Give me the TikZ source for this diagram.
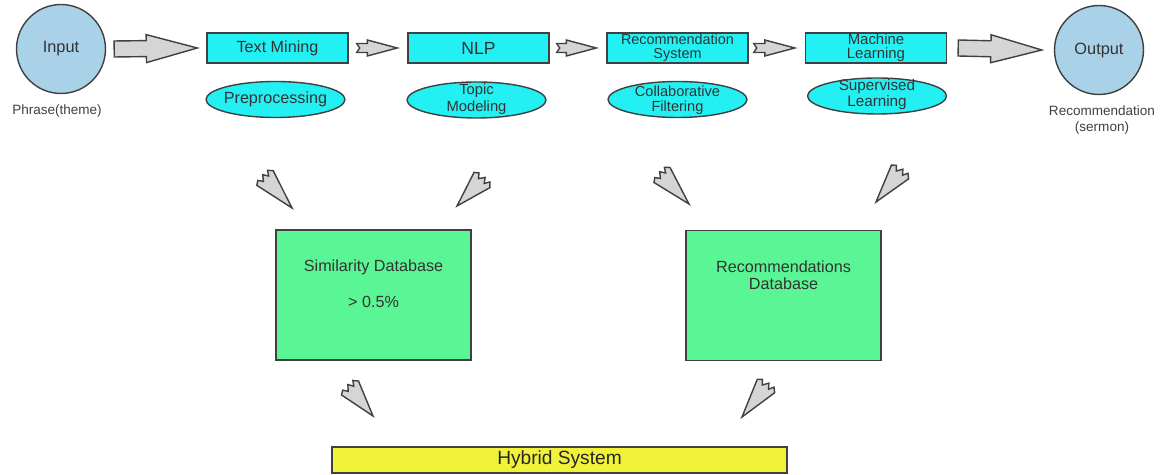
\documentclass[tikz,border=0pt]{standalone}
\usepackage{fontspec}
\setmainfont{Liberation Sans}
\usetikzlibrary{shapes.geometric,calc}

\definecolor{ioblue}{HTML}{A9D1E8}
\definecolor{stagecyan}{HTML}{22F0F2}
\definecolor{dbgreen}{HTML}{5AF594}
\definecolor{hybyellow}{HTML}{F2F23A}
\definecolor{arrowgray}{HTML}{D5D5D5}

\tikzset{
  io/.style={circle, draw=black!75, line width=0.8pt, fill=ioblue,
    minimum size=1.78cm, inner sep=0pt, text=black!80,
    font=\fontsize{9.3}{11}\selectfont},
  iotext/.style={align=center, text=black!75, font=\fontsize{7.7}{8.6}\selectfont},
  stage/.style={rectangle, draw=black!75, line width=0.8pt, fill=stagecyan,
    minimum width=2.82cm, minimum height=0.6cm, inner sep=0pt, align=center,
    text=black!80, font=\fontsize{9.2}{8}\selectfont},
  method/.style={ellipse, draw=black!75, line width=0.8pt, fill=stagecyan,
    minimum width=2.78cm, minimum height=0.72cm, inner sep=0pt},
  mtext/.style={align=center, inner sep=0pt, text=black!80},
  dbbox/.style={rectangle, draw=black!75, line width=0.8pt, fill=dbgreen,
    minimum width=3.9cm, minimum height=2.6cm, inner sep=0pt},
  dbtext/.style={align=center, inner sep=0pt, text=black!80,
    font=\fontsize{9.2}{9.8}\selectfont},
  % block arrow: shaft half width, head half width, head length, tail notch
  blockarrow/.style n args={4}{fill=arrowgray, draw=black!75, line width=0.8pt,
    to path={
      ($(\tikztostart)!#1!90:(\tikztotarget)$)
      -- ($(\tikztotarget)!#3!(\tikztostart)!#1!-90:(\tikztostart)$)
      -- ($(\tikztotarget)!#3!(\tikztostart)!#2!-90:(\tikztostart)$)
      -- (\tikztotarget)
      -- ($(\tikztotarget)!#3!(\tikztostart)!#2!90:(\tikztostart)$)
      -- ($(\tikztotarget)!#3!(\tikztostart)!#1!90:(\tikztostart)$)
      -- ($(\tikztostart)!#1!-90:(\tikztotarget)$)
      -- ($(\tikztostart)!#4!(\tikztotarget)$)
      -- cycle}},
  bigarrow/.style={blockarrow={0.16cm}{0.28cm}{1.02cm}{0cm}},
  smallarrow/.style={blockarrow={0.09cm}{0.16cm}{0.6cm}{0.06cm}},
  % thin arrow with a ragged tail
  ragarrow/.style={fill=arrowgray, draw=black!75, line width=0.8pt,
    to path={
      ($(\tikztostart)!0.22cm!90:(\tikztotarget)$)
      -- (\tikztotarget)
      -- ($(\tikztostart)!0.22cm!-90:(\tikztotarget)$)
      -- ($(\tikztostart)!-0.06cm!(\tikztotarget)!0.14cm!-90:(\tikztotarget)$)
      -- ($(\tikztostart)!0.03cm!(\tikztotarget)!0.07cm!-90:(\tikztotarget)$)
      -- ($(\tikztostart)!-0.08cm!(\tikztotarget)!0.01cm!90:(\tikztotarget)$)
      -- ($(\tikztostart)!0.02cm!(\tikztotarget)!0.08cm!90:(\tikztotarget)$)
      -- ($(\tikztostart)!-0.08cm!(\tikztotarget)!0.14cm!90:(\tikztotarget)$)
      -- cycle}},
}

\begin{document}
\begin{tikzpicture}[x=0.02cm, y=-0.02cm]
  \useasboundingbox (0,0) rectangle (1164,475);

  % top row
  \node[io] (input) at (61,49) {Input};
  \node[iotext] (phrase) at (57,111) {Phrase(theme)};
  \node[io] (output) at (1099,50) {Output};
  \node[iotext] (sermon) at (1102,120) {Recommendation\\(sermon)};

  \node[stage] (tm) at (277.5,48) {Text Mining};
  \node[stage, font=\fontsize{10}{10}\selectfont] (nlp) at (478.5,48) {NLP};
  \node[stage, font=\fontsize{8.2}{7.8}\selectfont] (rs) at (677.5,48) {Recommendation\\System};
  \node[stage, font=\fontsize{8.5}{8.1}\selectfont] (ml) at (876,48) {Machine\\Learning};

  \node[method] (tmm) at (275.5,99.5) {};
  \node[method] (nlpm) at (476.5,100) {};
  \node[method] (rsm) at (677.5,99.5) {};
  \node[method] (mlm) at (877,96) {};
  \node[mtext, font=\fontsize{9.2}{9}\selectfont] (tmt) at (tmm) {Preprocessing};
  \node[mtext, font=\fontsize{8.4}{9.5}\selectfont] (nlpt) at (476.5,99) {Topic\\Modeling};
  \node[mtext, font=\fontsize{8.3}{8.3}\selectfont] (rst) at (677.5,100) {Collaborative\\Filtering};
  \node[mtext, font=\fontsize{8.7}{8.1}\selectfont] (mlt) at (877,94.5) {Supervised\\Learning};

  \path[bigarrow] ([xshift=0.16cm]input.east) to ([xshift=-0.18cm]tm.west);
  \path[smallarrow] ([xshift=0.16cm]tm.east) to ([xshift=-0.2cm]nlp.west);
  \path[smallarrow] ([xshift=0.14cm]nlp.east) to ([xshift=-0.2cm]rs.west);
  \path[smallarrow] ([xshift=0.1cm]rs.east) to ([xshift=-0.2cm]ml.west);
  \path[bigarrow] ([xshift=0.22cm]ml.east) to ([xshift=-0.24cm]output.west);

  % databases
  \node[dbbox] (simdb) at (373.5,295) {};
  \node[dbtext] (simt) at (373.5,267) {Similarity Database};
  \node[dbtext] (simv) at (373.5,302) {> 0.5\%};
  \node[dbbox] (recdb) at (783.5,295.5) {};
  \node[dbtext] (rect) at (783.5,275.5) {Recommendations\\Database};

  \node[rectangle, draw=black!75, line width=0.8pt, fill=hybyellow,
    minimum width=9.1cm, minimum height=0.52cm, inner sep=0pt, text=black!85,
    font=\fontsize{10.9}{12}\selectfont] (hybrid) at (559.5,460) {Hybrid System};

  % ragged arrows
  \coordinate (pa1) at (265,178); \coordinate (pa2) at (292,208);
  \coordinate (pb1) at (482,180); \coordinate (pb2) at (457,206);
  \coordinate (pc1) at (662,175); \coordinate (pc2) at (689,204);
  \coordinate (pd1) at (900,172); \coordinate (pd2) at (876,202);
  \coordinate (pe1) at (350,388); \coordinate (pe2) at (373,416);
  \coordinate (pf1) at (766,386); \coordinate (pf2) at (742,417);
  \path[ragarrow] (pa1) to (pa2);
  \path[ragarrow] (pb1) to (pb2);
  \path[ragarrow] (pc1) to (pc2);
  \path[ragarrow] (pd1) to (pd2);
  \path[ragarrow] (pe1) to (pe2);
  \path[ragarrow] (pf1) to (pf2);
\end{tikzpicture}
\end{document}
